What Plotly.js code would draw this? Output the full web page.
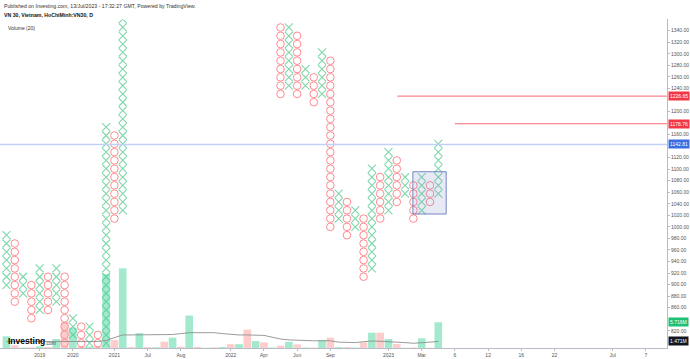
<!DOCTYPE html>
<html><head><meta charset="utf-8">
<script src="https://cdn.plot.ly/plotly-3.0.1.min.js"></script>
<style>html,body{margin:0;padding:0;background:#fff;}#chart{width:690px;height:359px;}</style>
</head><body><div id="chart"></div>
<script>
// Point & figure box size (price units)
const BOX = 14.4;
// column types, one per P&F column
const colType = ["X","O","X","O","X","O","X","O","X","O","X","O","X","O","X","O","X","O","X","O","X","O","X","O","X","O","X","O","X","O","X","O","X","O","X","O","X","O","X","O","X","O","X","O","X","O","X","O","X","O","X","O","X"];
// column low / high box prices (null = column above the visible range)
const colLow = [899.2,870.4,884.8,841.6,856.0,856.0,870.4,798.4,812.8,784.0,798.4,784.0,798.4,1014.4,1028.8,
  null,null,null,null,null,null,null,null,null,null,null,null,null,null,null,null,null,null,
  1230.4,1244.8,1230.4,1244.8,1216.0,1230.4,1000.0,1014.4,985.6,1000.0,913.6,928.0,1014.4,1028.8,1043.2,1057.6,1014.4,1028.8,1043.2,1057.6];
const colHigh = [985.6,971.2,913.6,899.2,928.0,913.6,928.0,913.6,841.6,827.2,827.2,812.8,1172.8,1158.4,1374.4,
  null,null,null,null,null,null,null,null,null,null,null,null,null,null,null,null,null,null,
  1345.6,1345.6,1331.2,1273.6,1259.2,1302.4,1288.0,1057.6,1043.2,1028.8,1014.4,1100.8,1086.4,1129.6,1115.2,1086.4,1072.0,1086.4,1072.0,1144.0];
// volume per column (millions)
const volume = [2.6,0.6,0.1,0.15,0.35,0.2,2.0,5.8,4.5,0.3,0.3,0.3,16.4,1.8,17.7,0.2,3.3,0.2,0.15,1.4,2.3,0.3,7.2,0.25,0.05,0.15,0.2,0.85,0.85,4.1,1.55,1.25,0.1,0.5,1.35,0.8,0.1,0.1,1.8,2.3,0.2,0.2,0.1,1.25,3.4,3.4,2.0,0.9,0.05,0.12,2.15,0.05,5.716];
// volume moving average (20), millions
const volumeMA = [1.45,1.45,1.45,1.45,1.45,1.45,1.45,1.45,1.45,1.45,1.45,1.45,1.7,2.3,2.9,2.9,2.9,2.9,2.9,2.9,3.0,3.2,3.4,3.4,3.4,3.4,3.2,3.0,2.9,2.9,2.9,2.8,2.4,2.0,1.8,1.7,1.65,1.6,1.6,1.6,1.3,1.2,1.2,1.4,1.55,1.5,1.45,1.4,1.2,1.05,1.1,1.3,1.471];
// time axis labels and the column they sit on
const tickLabels = ["2019","2020","2021","Jul","Aug","2022","Apr","Jun","Sep","2023","Mar","6","12","16","22","Jul","7"];
const tickCols = [4,8,13,17,21,27,31,35,39,46,50,54,58,62,66,73,77];
// price axis ticks (those hidden under the price tags are left out)
const priceTicks = [820,860,880,900,920,940,960,980,1000,1020,1040,1060,1080,1100,1120,1160,1200,1240,1260,1280,1300,1320,1340];
// drawn levels
const levelRed1 = 1226.65, levelRed2 = 1178.76, levelBlue = 1142.81;
const lastVolume = 5.716, lastMA = 1.471;

const xs = {X:[],O:[]}, ys = {X:[],O:[]};
colType.forEach((t,i)=>{
  if (colLow[i]==null) return;
  const n = Math.round((colHigh[i]-colLow[i])/BOX);
  for (let k=0;k<=n;k++){ xs[t].push(i); ys[t].push(colLow[i]+k*BOX); }
});
const colIdx = colType.map((_,i)=>i);
const FONT = "Liberation Sans, Arial, sans-serif";
const X_COLOR = '#7fd7ab', O_COLOR = '#ff8a91';

const traces = [
  {type:'bar', x:colIdx, y:volume, yaxis:'y2', width:0.92,
   marker:{color:colType.map(t=>t==='X'?'rgba(60,210,150,0.48)':'rgba(250,150,150,0.48)'), line:{width:0}},
   hoverinfo:'skip'},
  {type:'scatter', mode:'lines', x:colIdx, y:volumeMA, yaxis:'y2', line:{color:'#8f8f8f', width:0.9}, hoverinfo:'skip'},
  {type:'scatter', mode:'markers', x:xs.X, y:ys.X, marker:{symbol:'x-thin-open', size:8, color:X_COLOR, line:{color:X_COLOR, width:1.1}}, hoverinfo:'skip'},
  {type:'scatter', mode:'markers', x:xs.O, y:ys.O, marker:{symbol:'circle-open', size:7.6, color:O_COLOR, line:{color:O_COLOR, width:1}}, hoverinfo:'skip'}
];

const H = 329, T = 19;
const py = px => (348 - px)/H;
const priceLabel = (v, yref, bg, txt) => ({x:1, xref:'paper', xanchor:'left', xshift:1, y:v, yref:yref, yanchor:'middle',
  text:txt, showarrow:false, bgcolor:bg, borderpad:1, font:{family:FONT, size:5, color:'#fff'}});

const layout = {
  width:690, height:359, margin:{l:0, r:23, t:T, b:11},
  paper_bgcolor:'#fff', plot_bgcolor:'#fff', showlegend:false,
  font:{family:FONT, size:5, color:'#333'},
  xaxis:{range:[-0.78,79.54], tickvals:tickCols, ticktext:tickLabels, showgrid:false, zeroline:false,
    showline:true, linecolor:'#b8bcc6', linewidth:1, ticks:'outside', ticklen:2, tickcolor:'#b8bcc6',
    tickfont:{family:FONT, size:5, color:'#555'}},
  yaxis:{range:[790.1,1360.3], side:'right', tickvals:priceTicks, ticktext:priceTicks.map(p=>p.toFixed(2)),
    showgrid:false, zeroline:false, showline:true, linecolor:'#b8bcc6', linewidth:1, ticks:'outside', ticklen:2,
    tickcolor:'#b8bcc6', tickfont:{family:FONT, size:5, color:'#555'}},
  yaxis2:{overlaying:'y', range:[0,73.1], visible:false, fixedrange:true},
  shapes:[
    {type:'line', xref:'paper', x0:0, x1:1, yref:'y', y0:levelBlue, y1:levelBlue, line:{color:'#c3d0f6', width:1.6}},
    {type:'line', xref:'x', x0:47.05, x1:79.54, yref:'y', y0:levelRed1, y1:levelRed1, line:{color:'#f76872', width:1}},
    {type:'line', xref:'x', x0:54.0, x1:79.54, yref:'y', y0:levelRed2, y1:levelRed2, line:{color:'#f76872', width:1}},
    {type:'rect', xref:'x', x0:48.94, x1:52.95, yref:'y', y0:1022.3, y1:1095.6,
     fillcolor:'rgba(120,140,200,0.18)', line:{color:'rgba(95,115,185,0.85)', width:1}}
  ],
  annotations:[
    {x:0.003, xref:'paper', xanchor:'left', y:py(6), yref:'paper', yanchor:'middle', showarrow:false,
     text:'Published on Investing.com, 13/Jul/2023 - 17:32:27 GMT, Powered by TradingView.', font:{family:FONT, size:5.2, color:'#333'}},
    {x:0.003, xref:'paper', xanchor:'left', y:py(15), yref:'paper', yanchor:'middle', showarrow:false,
     text:'<b>VN 30, Vietnam, HoChiMinh:VN30, D</b>', font:{family:FONT, size:5.2, color:'#111'}},
    {x:0.009, xref:'paper', xanchor:'left', y:py(28), yref:'paper', yanchor:'middle', showarrow:false,
     text:'Volume (20)', font:{family:FONT, size:5, color:'#333'}},
    {x:0.009, xref:'paper', xanchor:'left', y:py(341), yref:'paper', yanchor:'middle', showarrow:false,
     text:"<b>Investing</b>", font:{family:FONT, size:8.5, color:'#000'}},
    {x:0.0645, xref:'paper', xanchor:'left', y:py(342.5), yref:'paper', yanchor:'middle', showarrow:false,
     text:".com", font:{family:FONT, size:5, color:'#444'}},
    priceLabel(levelRed1,'y','#f23645',levelRed1.toFixed(2)),
    priceLabel(levelRed2,'y','#f23645',levelRed2.toFixed(2)),
    priceLabel(levelBlue,'y','#3a6ee0',levelBlue.toFixed(2)),
    priceLabel(lastVolume,'y2','#1fbf74',lastVolume.toFixed(3)+'M'),
    priceLabel(lastMA,'y2','#131722',lastMA.toFixed(3)+'M')
  ]
};
Plotly.newPlot('chart', traces, layout, {displayModeBar:false, staticPlot:true});
</script></body></html>
